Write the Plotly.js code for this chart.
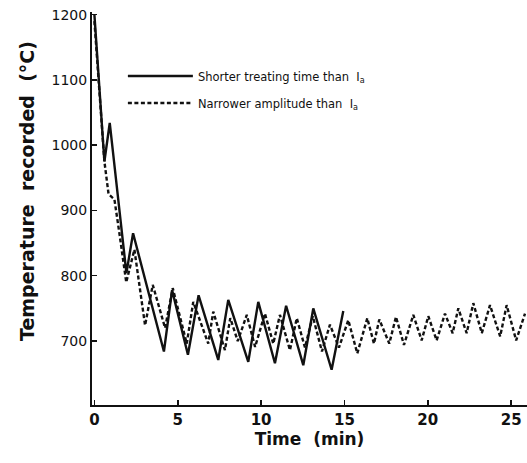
<!DOCTYPE html>
<html>
<head>
<meta charset="utf-8">
<script src="https://cdn.plot.ly/plotly-3.0.1.min.js"></script>
<style>html,body{margin:0;padding:0;background:#fff;}#chart{width:527px;height:463px;}</style>
</head>
<body>
<div id="chart"></div>
<script>
// Solid series: shorter treating time than Ia
const shorterTime = [0, 0.6, 0.92, 1.92, 2.32, 4.17, 4.66, 5.61, 6.25, 7.43, 8.03, 9.23, 9.83, 10.83, 11.5, 12.53, 13.13, 14.23, 14.93];
const shorterTemp = [1200, 975, 1034, 804, 865, 684, 778, 679, 770, 671, 763, 668, 760, 666, 754, 663, 750, 656, 746];

// Dashed series: narrower amplitude than Ia
const narrowTime = [0, 0.6, 0.85, 1.2, 1.5, 1.91, 2.4, 3.04, 3.5, 4.24, 4.7, 5.54, 5.93, 6.83, 7.13, 7.83, 8.15, 8.6, 9.14, 9.64, 10.23, 10.73, 11.13, 11.73, 12.14, 12.63, 13.1, 13.65, 14.13, 14.67, 15.23, 15.77, 16.37, 16.77, 17.09, 17.69, 18.09, 18.57, 19.13, 19.63, 20.03, 20.53, 21.03, 21.49, 21.83, 22.33, 22.73, 23.24, 23.73, 24.34, 24.73, 25.3, 25.83];
const narrowTemp = [1190, 975, 925, 917, 865, 790, 840, 724, 786, 720, 781, 696, 760, 696, 745, 686, 735, 700, 740, 691, 742, 696, 740, 686, 735, 690, 738, 684, 725, 690, 732, 681, 735, 696, 733, 696, 737, 694, 740, 701, 738, 701, 742, 712, 750, 712, 758, 712, 755, 707, 755, 701, 742];

const xTicks = [0, 5, 10, 15, 20, 25];
const yTicks = [700, 800, 900, 1000, 1100, 1200];
const seriesNames = ['Shorter treating time than  I<sub>a</sub>', 'Narrower amplitude than  I<sub>a</sub>'];
const xTitle = 'Time  (min)';
const yTitle = 'Temperature  recorded  (°C)';

const font = 'DejaVu Sans, Arial, sans-serif';

const traces = [
  {x: shorterTime, y: shorterTemp, mode: 'lines', name: seriesNames[0], legendgroup: 'a',
   line: {color: '#111', width: 2.4}},
  {x: narrowTime, y: narrowTemp, mode: 'lines', name: seriesNames[1], legendgroup: 'b',
   line: {color: '#111', width: 2.4, dash: '4px,2.5px'}}
];

const layout = {
  width: 527, height: 463,
  margin: {l: 92, r: 0, t: 12, b: 58},
  paper_bgcolor: '#fff', plot_bgcolor: '#fff',
  font: {family: font, color: '#111'},
  showlegend: true,
  legend: {x: 0.071, y: 0.874, xanchor: 'left', yanchor: 'top', bgcolor: 'rgba(0,0,0,0)',
           font: {size: 11.5, family: font, color: '#111'}, traceorder: 'grouped', tracegroupgap: 8,
           itemwidth: 65},
  xaxis: {
    range: [-0.144, 25.95], tickvals: xTicks, ticktext: xTicks.map(String),
    showgrid: false, zeroline: false, showline: true, linecolor: '#111', linewidth: 2,
    ticks: 'inside', ticklen: 5, tickwidth: 1.5, tickcolor: '#111',
    tickfont: {size: 15, family: font, color: '#111', weight: 'bold'},
    title: {text: xTitle, font: {size: 17, family: font, color: '#111', weight: 'bold'}, standoff: 2}
  },
  yaxis: {
    range: [602, 1204], tickvals: yTicks, ticktext: yTicks.map(String),
    showgrid: false, zeroline: false, showline: true, linecolor: '#111', linewidth: 2,
    ticks: 'inside', ticklen: 5, tickwidth: 1.5, tickcolor: '#111',
    tickfont: {size: 14, family: font, color: '#111'}
  },
  annotations: [
    {text: yTitle, xref: 'paper', yref: 'paper', x: -0.149, y: 0.545, xanchor: 'center', yanchor: 'middle',
     textangle: -90, showarrow: false, font: {size: 19, family: font, color: '#111', weight: 'bold'}}
  ]
};

Plotly.newPlot('chart', traces, layout, {staticPlot: true, displayModeBar: false});
</script>
</body>
</html>
